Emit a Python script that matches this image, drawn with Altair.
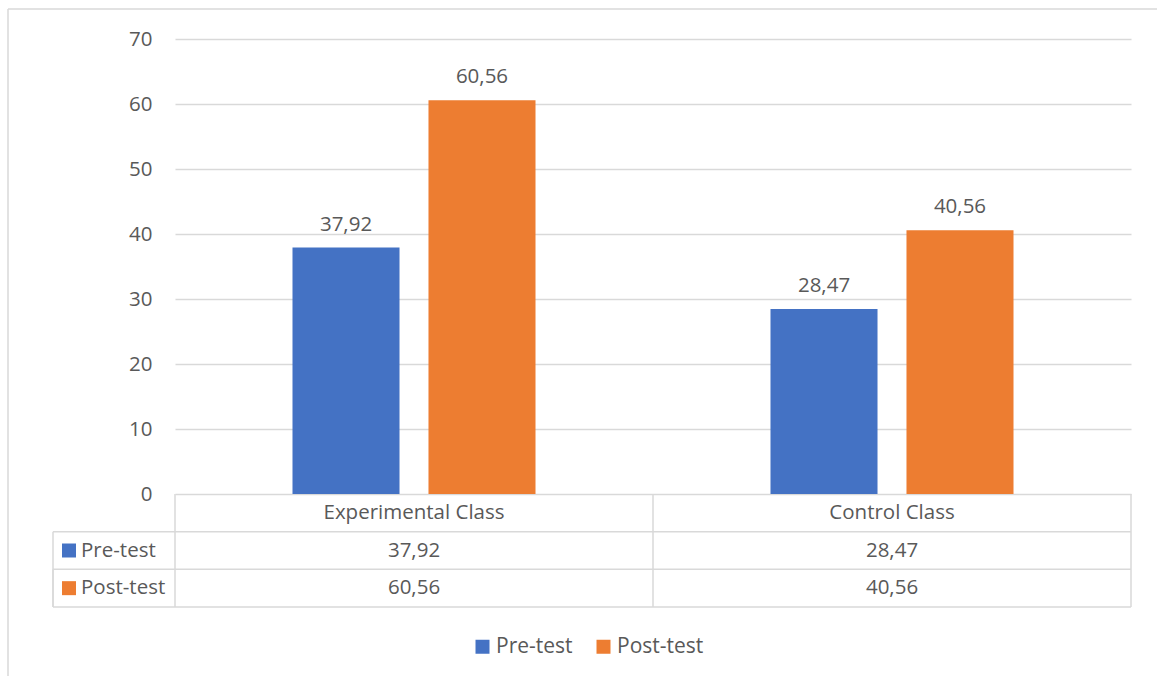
import altair as alt
import pandas as pd

# ---- data ----
categories = ["Experimental Class", "Control Class"]
series = ["Pre-test", "Post-test"]
pre_test = [37.92, 28.47]
post_test = [60.56, 40.56]
colors = ["#4472C4", "#ED7D31"]
y_ticks = [0, 10, 20, 30, 40, 50, 60, 70]

records = []
for i, c in enumerate(categories):
    records.append({"category": c, "series": "Pre-test", "value": pre_test[i]})
    records.append({"category": c, "series": "Post-test", "value": post_test[i]})
df = pd.DataFrame(records)
cat_df = pd.DataFrame({"category": categories, "row": ["category"] * len(categories)})
ser_df = pd.DataFrame({"series": series})
row_df = pd.DataFrame({"row": ["category"] + series})

# ---- style ----
FONT = "Open Sans"
FS = 20.5
GREY = "#595959"
LINE = "#d9d9d9"
W, H = 956, 455
TABLE_BOTTOM = 568
LEFT_COL = -122

x_scale = alt.Scale(domain=categories, paddingInner=0, paddingOuter=0)
xoff_scale = alt.Scale(domain=series, paddingInner=0.213, paddingOuter=0.864)
y_scale = alt.Scale(domain=[0, 70], nice=False)
row_scale = alt.Scale(domain=["category"] + series, range=[H, TABLE_BOTTOM],
                      paddingInner=0, paddingOuter=0)
color_scale = alt.Scale(domain=series, range=colors)

label_expr = "replace(format(datum.value, '.2f'), '.', ',')"

bars = alt.Chart(df).mark_bar().encode(
    x=alt.X("category:N", scale=x_scale, axis=None, sort=categories),
    xOffset=alt.XOffset("series:N", scale=xoff_scale, sort=series),
    y=alt.Y("value:Q", scale=y_scale,
            axis=alt.Axis(values=y_ticks, grid=True, gridColor=LINE, gridWidth=1.3,
                          domain=False, ticks=False, labelPadding=23,
                          labelFontSize=FS, labelColor=GREY, labelFont=FONT, title=None)),
    color=alt.Color("series:N", scale=color_scale, sort=series,
                    legend=alt.Legend(title=None, orient="none", direction="horizontal",
                                      legendX=297, legendY=597,
                                      symbolType="square", symbolSize=196,
                                      symbolStrokeWidth=0, labelFontSize=21,
                                      labelColor=GREY, labelFont=FONT, labelOffset=3,
                                      columnPadding=20)),
)

bar_labels = alt.Chart(df).transform_calculate(label=label_expr).mark_text(
    baseline="bottom", dy=-13, fontSize=FS, color=GREY, font=FONT
).encode(
    x=alt.X("category:N", scale=x_scale, axis=None, sort=categories),
    xOffset=alt.XOffset("series:N", scale=xoff_scale, sort=series),
    y=alt.Y("value:Q", scale=y_scale, axis=None),
    text="label:N",
)

# table horizontal lines (bottom of each row)
h_lines = alt.Chart(row_df).mark_rule(color=LINE, strokeWidth=1.5).encode(
    y=alt.Y("row:N", scale=row_scale, axis=None, bandPosition=1),
    x=alt.value(LEFT_COL),
    x2=alt.value("width"),
)

# table vertical lines at category boundaries
v_lines = alt.Chart(cat_df).mark_rule(color=LINE, strokeWidth=1.5).encode(
    x=alt.X("category:N", scale=x_scale, axis=None, bandPosition=0, sort=categories),
    y=alt.value(H),
    y2=alt.value(TABLE_BOTTOM),
)
v_right = alt.Chart(cat_df.head(1)).mark_rule(color=LINE, strokeWidth=1.5).encode(
    x=alt.value("width"), y=alt.value(H), y2=alt.value(TABLE_BOTTOM)
)
v_left = alt.Chart(ser_df).mark_rule(color=LINE, strokeWidth=1.5).encode(
    x=alt.value(LEFT_COL),
    y=alt.Y("series:N", scale=row_scale, axis=None, bandPosition=0),
    y2=alt.value(TABLE_BOTTOM),
)

# outer frame (top and left edges visible)
frame_top = alt.Chart(cat_df.head(1)).mark_rule(color=LINE, strokeWidth=1.5).encode(
    x=alt.value(-167), x2=alt.value(1000), y=alt.value(-30)
)
frame_left = alt.Chart(cat_df.head(1)).mark_rule(color=LINE, strokeWidth=1.5).encode(
    x=alt.value(-167), y=alt.value(-30), y2=alt.value(700)
)

cat_text = alt.Chart(cat_df).mark_text(fontSize=FS, color=GREY, font=FONT).encode(
    x=alt.X("category:N", scale=x_scale, axis=None, sort=categories),
    y=alt.Y("row:N", scale=row_scale, axis=None),
    text="category:N",
)

val_text = alt.Chart(df).transform_calculate(label=label_expr).mark_text(
    fontSize=FS, color=GREY, font=FONT
).encode(
    x=alt.X("category:N", scale=x_scale, axis=None, sort=categories),
    y=alt.Y("series:N", scale=row_scale, axis=None),
    text="label:N",
)

row_squares = alt.Chart(ser_df).mark_square(size=196, opacity=1).encode(
    x=alt.value(-106),
    y=alt.Y("series:N", scale=row_scale, axis=None),
    fill=alt.Fill("series:N", scale=alt.Scale(domain=series, range=colors), legend=None),
)
row_names = alt.Chart(ser_df).mark_text(align="left", fontSize=FS, color=GREY, font=FONT).encode(
    x=alt.value(-94),
    y=alt.Y("series:N", scale=row_scale, axis=None),
    text="series:N",
)

chart = alt.layer(
    frame_top, frame_left, bars, bar_labels, h_lines, v_lines, v_right, v_left,
    cat_text, val_text, row_squares, row_names,
).resolve_scale(y="independent").properties(
    width=W, height=H,
    autosize=alt.AutoSizeParams(type="none"),
    padding={"left": 175, "top": 39, "right": 26, "bottom": 182},
    background="white",
).configure(font=FONT).configure_view(stroke="transparent")

chart.save("out.html", embed_options={"renderer": "svg", "actions": False})
